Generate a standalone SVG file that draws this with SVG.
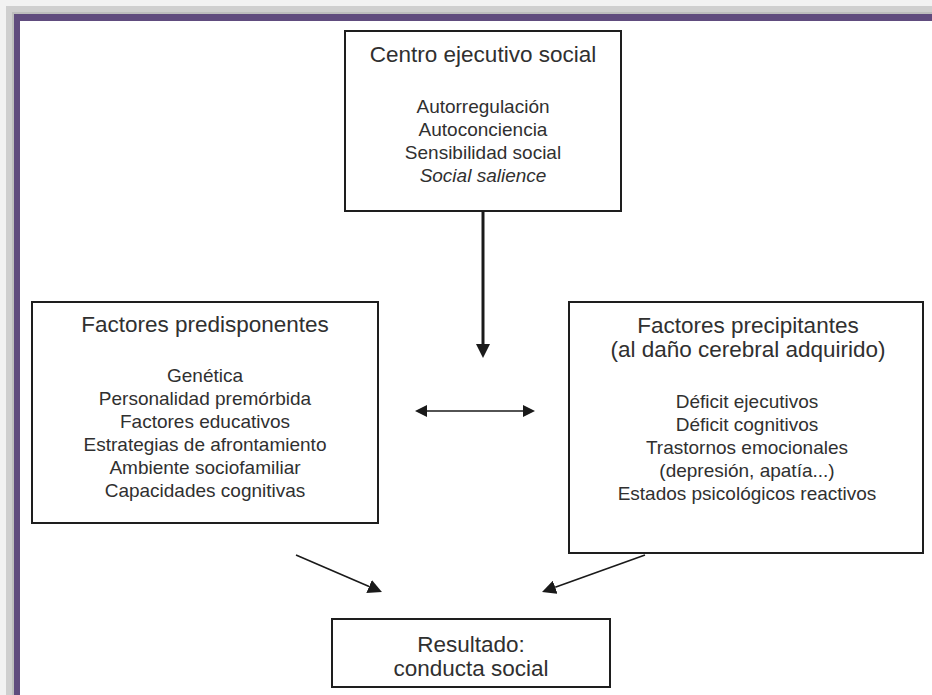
<svg xmlns="http://www.w3.org/2000/svg" width="932" height="695" viewBox="0 0 932 695">
<style>
.box{fill:#fff;stroke:#1e1e1e;stroke-width:2}
text{font-family:"Liberation Sans",Arial,sans-serif;fill:#303030;text-anchor:middle}
.t{font-size:22.5px}
.i{font-size:19px}
.conn{stroke:#1a1a1a;fill:none}
</style>
<defs>
<marker id="ah" markerUnits="userSpaceOnUse" markerWidth="14" markerHeight="14" viewBox="0 0 14 14" refX="0" refY="7" orient="auto-start-reverse"><path d="M0,0 L14,7 L0,14 z" fill="#1a1a1a"/></marker>
<marker id="ah2" markerUnits="userSpaceOnUse" markerWidth="12" markerHeight="12" viewBox="0 0 12 12" refX="0" refY="6" orient="auto-start-reverse"><path d="M0,0 L12,6 L0,12 z" fill="#1a1a1a"/></marker>
</defs>
<g id="frame">
<rect x="0" y="0" width="932" height="695" fill="#f2f2f2"/>
<rect x="6" y="6" width="926" height="689" fill="#cfcfcf"/>
<rect x="12" y="12" width="920" height="683" fill="#bdbdbd"/>
<rect x="14" y="14" width="918" height="681" fill="#604c7e"/>
<rect x="20" y="21" width="912" height="674" fill="#ffffff"/>
</g>
<g id="centro">
<rect class="box" x="345" y="31" width="276" height="180"/>
<text class="t" x="483" y="62">Centro ejecutivo social</text>
<text class="i" x="483" y="113">Autorregulación</text>
<text class="i" x="483" y="136">Autoconciencia</text>
<text class="i" x="483" y="159">Sensibilidad social</text>
<text class="i" x="483" y="182" font-style="italic">Social salience</text>
</g>
<g id="predisponentes">
<rect class="box" x="32" y="302" width="346" height="221"/>
<text class="t" x="205" y="332">Factores predisponentes</text>
<text class="i" x="205" y="382">Genética</text>
<text class="i" x="205" y="405">Personalidad premórbida</text>
<text class="i" x="205" y="428">Factores educativos</text>
<text class="i" x="205" y="451">Estrategias de afrontamiento</text>
<text class="i" x="205" y="474">Ambiente sociofamiliar</text>
<text class="i" x="205" y="497">Capacidades cognitivas</text>
</g>
<g id="precipitantes">
<rect class="box" x="569" y="302" width="354" height="251"/>
<text class="t" x="748" y="333">Factores precipitantes</text>
<text class="t" x="748" y="357">(al daño cerebral adquirido)</text>
<text class="i" x="747" y="408">Déficit ejecutivos</text>
<text class="i" x="747" y="431">Déficit cognitivos</text>
<text class="i" x="747" y="454">Trastornos emocionales</text>
<text class="i" x="747" y="477">(depresión, apatía...)</text>
<text class="i" x="747" y="500">Estados psicológicos reactivos</text>
</g>
<g id="resultado">
<rect class="box" x="332" y="619" width="278" height="68"/>
<text class="t" x="471" y="652">Resultado:</text>
<text class="t" x="471" y="676">conducta social</text>
</g>
<g id="connectors">
<line class="conn" x1="483" y1="211" x2="483" y2="344" stroke-width="3" marker-end="url(#ah)"/>
<line class="conn" x1="427" y1="411" x2="523" y2="411" stroke-width="1.6" marker-start="url(#ah2)" marker-end="url(#ah2)"/>
<line class="conn" x1="296" y1="555" x2="369.1" y2="586.5" stroke-width="1.6" marker-end="url(#ah)"/>
<line class="conn" x1="645" y1="555" x2="555.2" y2="587.3" stroke-width="1.6" marker-end="url(#ah)"/>
</g>
</svg>
